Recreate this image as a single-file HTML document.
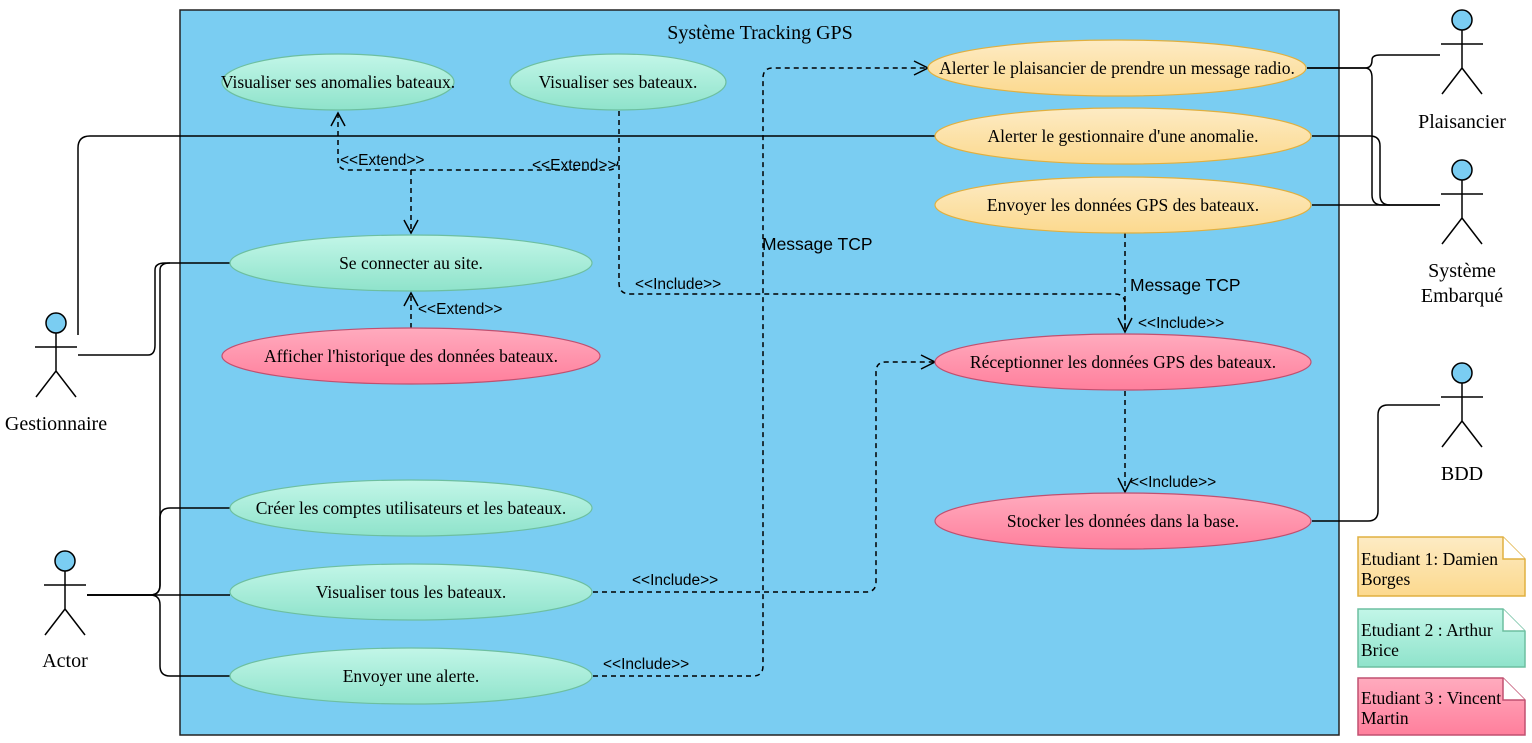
<!DOCTYPE html>
<html><head><meta charset="utf-8"><style>body{margin:0;background:#fff}svg{display:block}</style></head><body>
<svg width="1532" height="743" xmlns="http://www.w3.org/2000/svg" font-family="Liberation Serif, serif">
<defs>
<linearGradient id="g" x1="0" y1="0" x2="0" y2="1"><stop offset="0" stop-color="#c2f6e8"/><stop offset="1" stop-color="#8fe3cb"/></linearGradient>
<linearGradient id="o" x1="0" y1="0" x2="0" y2="1"><stop offset="0" stop-color="#fdebc4"/><stop offset="1" stop-color="#fcd98e"/></linearGradient>
<linearGradient id="r" x1="0" y1="0" x2="0" y2="1"><stop offset="0" stop-color="#ffabbe"/><stop offset="1" stop-color="#ff7f9c"/></linearGradient>
</defs>
<rect x="180" y="10" width="1159" height="725" fill="#7acdf2" stroke="#222" stroke-width="1.5"/>
<text x="760" y="39" font-size="20" text-anchor="middle">Système Tracking GPS</text>
<g fill="none" stroke="#000" stroke-width="1.5">
<path d="M78,335 V148 Q78,136 90,136 H935"/>
<path d="M78,355 H148 Q155,355 155,345 V270 Q155,263 165,263 H230"/>
<path d="M87,595 H150 Q160,595 160,585 V270 Q160,263 170,263"/>
<path d="M87,595 H150 Q160,595 160,585 V518 Q160,508 170,508 H230"/>
<path d="M87,595 H230"/>
<path d="M87,595 H150 Q160,595 160,605 V666 Q160,676 170,676 H230"/>
<path d="M1307,68 H1365 Q1372,68 1372,60 Q1372,55 1380,55 H1440"/>
<path d="M1307,68 H1365 Q1372,68 1372,78 V195 Q1372,205 1382,205 H1440"/>
<path d="M1312,136 H1370 Q1380,136 1380,146 V195 Q1380,205 1390,205"/>
<path d="M1312,205 H1440"/>
<path d="M1312,521 H1368 Q1378,521 1378,511 V415 Q1378,405 1388,405 H1440"/>
</g>
<g fill="none" stroke="#000" stroke-width="1.5" stroke-dasharray="5,4">
<path d="M619,111 V283 Q619,294 630,294 H1115 Q1125,294 1125,304 V332"/>
<path d="M411,355 V293"/>
<path d="M338,113 V160 Q338,170 348,170 H608 Q618,170 618,160"/>
<path d="M411,170 V233"/>
<path d="M593,676 H753 Q763,676 763,666 V78 Q763,68 773,68 H928"/>
<path d="M1125,233 V332"/>
<path d="M593,592 H866 Q876,592 876,582 V372 Q876,362 886,362 H935"/>
<path d="M1125,391 V492"/>
</g>
<g fill="none" stroke="#000" stroke-width="1.5">
<path d="M331,126 L338,113 L345,126"/><path d="M404,306 L411,293 L418,306"/>
<path d="M404,220 L411,233 L418,220"/><path d="M1118,318 L1125,332 L1132,318"/>
<path d="M914,61 L928,68 L914,75"/><path d="M921,355 L935,362 L921,369"/>
<path d="M1118,478 L1125,492 L1132,478"/>
</g>
<g stroke-width="1.2">
<ellipse cx="338" cy="82" rx="116" ry="28" fill="url(#g)" stroke="#6dbfa0"/>
<ellipse cx="618" cy="82" rx="108" ry="28" fill="url(#g)" stroke="#6dbfa0"/>
<ellipse cx="1117" cy="68" rx="189" ry="28" fill="url(#o)" stroke="#e0b040"/>
<ellipse cx="1123" cy="136" rx="188" ry="28" fill="url(#o)" stroke="#e0b040"/>
<ellipse cx="1123" cy="205" rx="188" ry="28" fill="url(#o)" stroke="#e0b040"/>
<ellipse cx="411" cy="263" rx="181" ry="28" fill="url(#g)" stroke="#6dbfa0"/>
<ellipse cx="411" cy="356" rx="189" ry="28" fill="url(#r)" stroke="#c05070"/>
<ellipse cx="1123" cy="362" rx="188" ry="28" fill="url(#r)" stroke="#c05070"/>
<ellipse cx="1123" cy="521" rx="188" ry="28" fill="url(#r)" stroke="#c05070"/>
<ellipse cx="411" cy="508" rx="181" ry="28" fill="url(#g)" stroke="#6dbfa0"/>
<ellipse cx="411" cy="592" rx="181" ry="28" fill="url(#g)" stroke="#6dbfa0"/>
<ellipse cx="411" cy="676" rx="181" ry="28" fill="url(#g)" stroke="#6dbfa0"/>
</g>
<g font-size="17.5" text-anchor="middle">
<text x="338" y="88">Visualiser ses anomalies bateaux.</text>
<text x="618" y="88">Visualiser ses bateaux.</text>
<text x="1117" y="74">Alerter le plaisancier de prendre un message radio.</text>
<text x="1123" y="142">Alerter le gestionnaire d'une anomalie.</text>
<text x="1123" y="211">Envoyer les données GPS des bateaux.</text>
<text x="411" y="269">Se connecter au site.</text>
<text x="411" y="362">Afficher l'historique des données bateaux.</text>
<text x="1123" y="368">Réceptionner les données GPS des bateaux.</text>
<text x="1123" y="527">Stocker les données dans la base.</text>
<text x="411" y="514">Créer les comptes utilisateurs et les bateaux.</text>
<text x="411" y="598">Visualiser tous les bateaux.</text>
<text x="411" y="682">Envoyer une alerte.</text>
</g>
<g font-family="Liberation Sans, sans-serif" font-size="15.5">
<text x="340" y="165">&lt;&lt;Extend&gt;&gt;</text>
<text x="532" y="170">&lt;&lt;Extend&gt;&gt;</text>
<text x="418" y="314">&lt;&lt;Extend&gt;&gt;</text>
<text x="635" y="289">&lt;&lt;Include&gt;&gt;</text>
<text x="1138" y="328">&lt;&lt;Include&gt;&gt;</text>
<text x="1130" y="487">&lt;&lt;Include&gt;&gt;</text>
<text x="632" y="585">&lt;&lt;Include&gt;&gt;</text>
<text x="603" y="669">&lt;&lt;Include&gt;&gt;</text>
<text x="762" y="250" font-size="17.5">Message TCP</text>
<text x="1130" y="291" font-size="17.5">Message TCP</text>
</g>
<g fill="#7acdf2" stroke="#000" stroke-width="1.5">
<g transform="translate(56,323)"><circle r="10"/><path fill="none" d="M0,10 V48 M-21,24 H21 M0,48 L-20,74 M0,48 L20,74"/></g>
<g transform="translate(65,561)"><circle r="10"/><path fill="none" d="M0,10 V48 M-21,24 H21 M0,48 L-20,74 M0,48 L20,74"/></g>
<g transform="translate(1462,20)"><circle r="10"/><path fill="none" d="M0,10 V48 M-21,24 H21 M0,48 L-20,74 M0,48 L20,74"/></g>
<g transform="translate(1462,170)"><circle r="10"/><path fill="none" d="M0,10 V48 M-21,24 H21 M0,48 L-20,74 M0,48 L20,74"/></g>
<g transform="translate(1462,373)"><circle r="10"/><path fill="none" d="M0,10 V48 M-21,24 H21 M0,48 L-20,74 M0,48 L20,74"/></g>
</g>
<g font-size="20" text-anchor="middle">
<text x="56" y="430">Gestionnaire</text>
<text x="65" y="667">Actor</text>
<text x="1462" y="128">Plaisancier</text>
<text x="1462" y="277">Système</text>
<text x="1462" y="302">Embarqué</text>
<text x="1462" y="480">BDD</text>
</g>
<g stroke-width="1.5">
<path d="M1358,537 H1503 L1525,559 V596 H1358 Z" fill="url(#o)" stroke="#e0b040"/>
<path d="M1503,537 V559 H1525" fill="#fff" stroke="#e0b040"/>
<path d="M1358,609 H1503 L1525,631 V667 H1358 Z" fill="url(#g)" stroke="#6dbfa0"/>
<path d="M1503,609 V631 H1525" fill="#fff" stroke="#6dbfa0"/>
<path d="M1358,678 H1503 L1525,700 V735 H1358 Z" fill="url(#r)" stroke="#c05070"/>
<path d="M1503,678 V700 H1525" fill="#fff" stroke="#c05070"/>
</g>
<g font-size="17.5">
<text x="1361" y="565">Etudiant 1: Damien</text><text x="1361" y="585">Borges</text>
<text x="1361" y="636">Etudiant 2 : Arthur</text><text x="1361" y="656">Brice</text>
<text x="1361" y="704">Etudiant 3 : Vincent</text><text x="1361" y="724">Martin</text>
</g>
</svg>
</body></html>
